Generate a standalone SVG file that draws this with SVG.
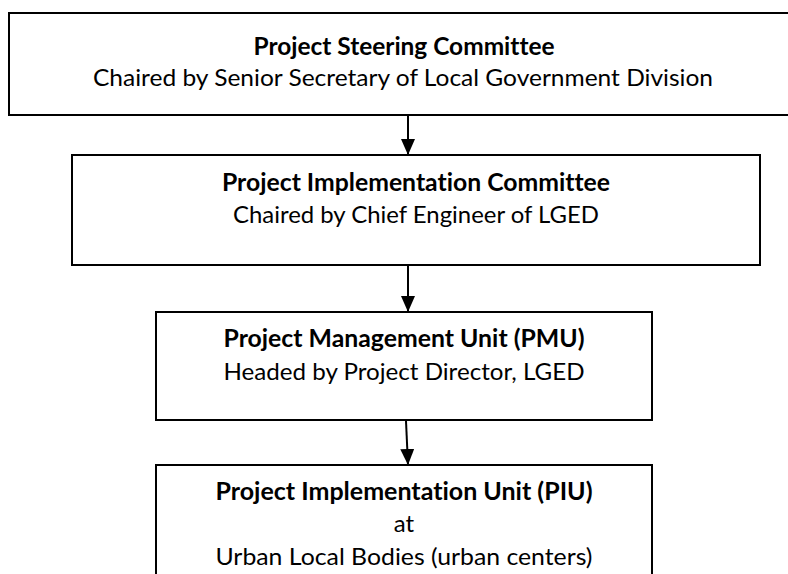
<svg xmlns="http://www.w3.org/2000/svg" width="788" height="574" viewBox="0 0 788 574">
<defs>
<style>
.box{fill:#fff;stroke:#000;stroke-width:2}
.t{font-family:Lato,"Open Sans","Liberation Sans",sans-serif;font-size:24px;fill:#000;text-anchor:middle;font-variant-ligatures:none}
.b{font-weight:bold}
.c{stroke:#000;stroke-width:2;fill:none}
</style>
<marker id="ah" viewBox="0 0 16 14" refX="16" refY="7" markerWidth="16" markerHeight="14" markerUnits="userSpaceOnUse" orient="auto">
<path d="M0,0 L16,7 L0,14 Z" fill="#000"/>
</marker>
</defs>
<rect width="788" height="574" fill="#fff"/>
<g id="steering">
<rect class="box" x="9" y="13" width="800" height="102" stroke-width="2.8"/>
<text class="t b" x="404" y="55" textLength="301" lengthAdjust="spacingAndGlyphs">Project Steering Committee</text>
<text class="t" x="403" y="86" textLength="620" lengthAdjust="spacingAndGlyphs">Chaired by Senior Secretary of Local Government Division</text>
</g>
<g id="implementation-committee">
<rect class="box" x="72" y="155" width="688" height="110"/>
<text class="t b" x="416" y="191" textLength="388" lengthAdjust="spacingAndGlyphs">Project Implementation Committee</text>
<text class="t" x="416" y="223" textLength="366" lengthAdjust="spacingAndGlyphs">Chaired by Chief Engineer of LGED</text>
</g>
<g id="pmu">
<rect class="box" x="156" y="312" width="496" height="108"/>
<text class="t b" x="404" y="347" textLength="361" lengthAdjust="spacingAndGlyphs">Project Management Unit (PMU)</text>
<text class="t" x="404" y="380" textLength="361" lengthAdjust="spacingAndGlyphs">Headed by Project Director, LGED</text>
</g>
<g id="piu">
<rect class="box" x="156" y="465" width="496" height="130"/>
<text class="t b" x="404" y="500" textLength="377" lengthAdjust="spacingAndGlyphs">Project Implementation Unit (PIU)</text>
<text class="t" x="404" y="532">at</text>
<text class="t" x="404" y="565" textLength="377" lengthAdjust="spacingAndGlyphs">Urban Local Bodies (urban centers)</text>
</g>
<g id="connectors">
<line class="c" x1="408" y1="116" x2="408" y2="155" marker-end="url(#ah)"/>
<line class="c" x1="408" y1="266" x2="408" y2="312" marker-end="url(#ah)"/>
<line class="c" x1="406" y1="421" x2="408" y2="465" marker-end="url(#ah)"/>
</g>
</svg>
